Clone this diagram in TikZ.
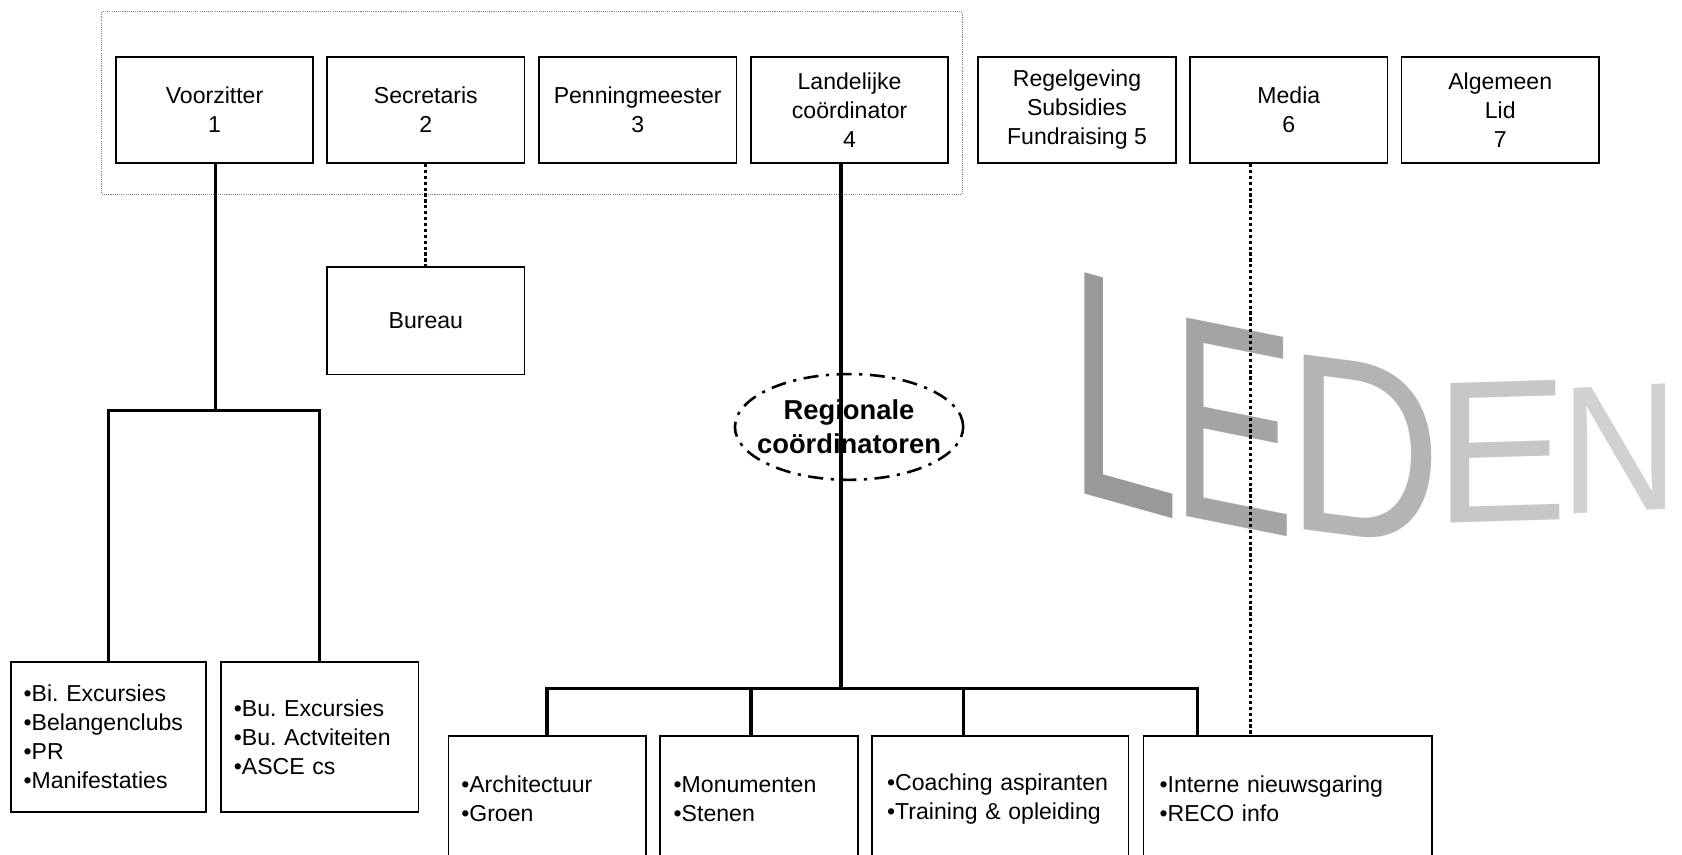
\documentclass[tikz,border=0pt]{standalone}
\usepackage{fontspec}
\setmainfont{Liberation Sans}
\frenchspacing
\usetikzlibrary{shapes.geometric,calc}
\definecolor{gL}{HTML}{999999}
\definecolor{gEa}{HTML}{A4A4A4}
\definecolor{gD}{HTML}{B4B4B4}
\definecolor{gEb}{HTML}{C7C7C7}
\definecolor{gN}{HTML}{D1D1D1}
\begin{document}
\begin{tikzpicture}[x=1pt,y=1pt,
  txt/.style={font=\fontsize{21.5}{27}\selectfont},
  topbox/.style={draw, line width=1.6pt, minimum width=184pt, minimum height=99pt, align=center, inner sep=0pt, txt},
  listbox/.style={draw, line width=1.6pt, align=left, inner xsep=12pt, inner ysep=0pt, txt},
  conn/.style={line width=3pt},
  dotconn/.style={line width=2.8pt, dash pattern=on 3pt off 2.5pt},
  grpbox/.style={draw=gray, line width=0.9pt, dash pattern=on 1pt off 1pt, inner sep=0pt},
  regbox/.style={ellipse, draw, line width=2.4pt, dash pattern=on 14pt off 7pt on 3pt off 7pt, inner xsep=-10.5pt, inner ysep=9.5pt, align=center, font=\bfseries\fontsize{25.5}{32}\selectfont},
  letter/.style={inner sep=0pt, anchor=base west}
]
\useasboundingbox (0,0) rectangle (1568,-797);
\clip (0,0) rectangle (1568,-797);

% LEDEN background lettering
\node[letter, text=gL, font=\fontsize{300}{300}\selectfont, yslant=-0.28, xscale=0.62] (lL) at (996.4,-456) {L};
\node[letter, text=gEa, font=\fontsize{269}{269}\selectfont, yslant=-0.2, xscale=0.643] (lE1) at (1091.5,-479) {E};
\node[letter, text=gD, font=\fontsize{237}{237}\selectfont, yslant=-0.13, xscale=0.847] (lD) at (1199.5,-492) {D};
\node[letter, text=gEb, font=\fontsize{189}{189}\selectfont, yslant=0.03, xscale=0.99] (lE2) at (1337,-488) {E};
\node[letter, text=gN, font=\fontsize{170}{170}\selectfont, yslant=0.05, xscale=0.9] (lN) at (1455,-480) {N};

% dotted group frame
\node[grpbox, minimum width=802pt, minimum height=170pt] (grp) at (496,-96) {};

% top row
\node[topbox] (v1) at (200,-102.5) {Voorzitter\\1};
\node[topbox] (v2) at (397,-102.5) {Secretaris\\2};
\node[topbox] (v3) at (594.5,-102.5) {Penningmeester\\3};
\node[topbox] (v4) at (792,-102.5) {Landelijke\\coördinator\\4};
\node[topbox] (v5) at (1004,-102.5) {Regelgeving\\Subsidies\\Fundraising 5};
\node[topbox] (v6) at (1201.5,-102.5) {Media\\6};
\node[topbox] (v7) at (1398.5,-102.5) {Algemeen\\Lid\\7};

% Bureau
\node[topbox, minimum height=100pt] (bur) at (397,-299) {Bureau};

% left list boxes
\node[listbox, text width=158pt, minimum height=140pt] (bi) at (101,-687) {•Bi. Excursies\\•Belangenclubs\\•PR\\•Manifestaties};
\node[listbox, text width=160pt, minimum height=140pt] (bu) at (298,-687) {•Bu. Excursies\\•Bu. Actviteiten\\•ASCE cs};

% bottom list boxes
\node[listbox, text width=160pt, minimum height=118pt] (b1) at (510,-745) {•Architectuur\\•Groen};
\node[listbox, inner xsep=13pt, text width=159pt, minimum height=118pt] (b2) at (707.5,-745) {•Monumenten\\•Stenen};
\node[listbox, inner xsep=14pt, text width=211pt, minimum height=118pt] (b3) at (932.5,-745) {•Coaching aspiranten\\•Training \& opleiding};
\node[listbox, inner xsep=15pt, text width=239pt, minimum height=118pt] (b4) at (1200.5,-745) {•Interne nieuwsgaring\\•RECO info};

% Regionale coordinatoren
\node[regbox] (reg) at (791.5,-398) {Regionale\\coördinatoren};

% connectors
\coordinate (j1) at (201,-383);
\draw[conn] (v1.south -| j1) -- (j1);
\draw[conn] (bi.north) |- (j1) -| (bu.north);

\draw[dotconn] (v2.south) -- (bur.north);

\coordinate (j2) at (784,-642);
\coordinate (d2) at (700,-686);
\coordinate (d3) at (898,-686);
\coordinate (d4) at (1116,-686);
\draw[conn] (v4.south -| j2) -- (j2);
\draw[conn] (b1.north) |- (j2) -| (d4);
\draw[conn] (d2 |- j2) -- (d2);
\draw[conn] (d3 |- j2) -- (d3);

\coordinate (d5) at (1166,-686);
\draw[dotconn] (v6.south -| d5) -- (d5);
\end{tikzpicture}
\end{document}
